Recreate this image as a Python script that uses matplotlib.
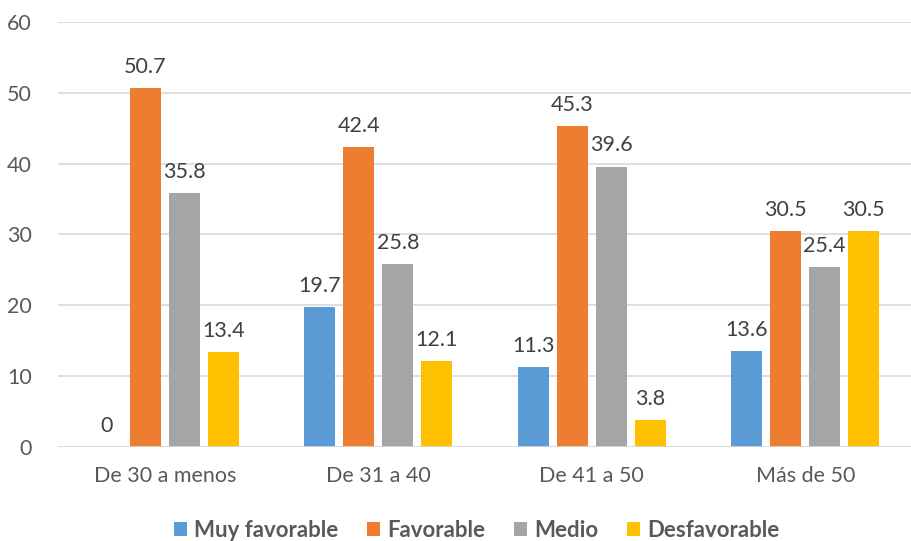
import matplotlib.pyplot as plt
import numpy as np

plt.rcParams['font.family'] = ['Lato', 'DejaVu Sans']

categories = ['De 30 a menos', 'De 31 a 40', 'De 41 a 50', 'Más de 50']
series = ['Muy favorable', 'Favorable', 'Medio', 'Desfavorable']
muy_favorable = [0, 19.7, 11.3, 13.6]
favorable = [50.7, 42.4, 45.3, 30.5]
medio = [35.8, 25.8, 39.6, 25.4]
desfavorable = [13.4, 12.1, 3.8, 30.5]
colors = ['#5B9BD5', '#ED7D31', '#A5A5A5', '#FFC000']

text_color = '#595959'
fig = plt.figure(figsize=(9.12, 5.41), dpi=100)
ax = fig.add_axes([0.0636, 0.1738, 0.9364, 0.7855])

x = np.arange(len(categories))
step = 0.183
width = 0.145
for i, (name, vals, c) in enumerate(zip(series, [muy_favorable, favorable, medio, desfavorable], colors)):
    pos = x + (i - 1.5) * step
    ax.bar(pos, vals, width, color=c, label=name, zorder=3)
    for p, v in zip(pos, vals):
        ax.annotate(f'{v:g}', (p, v), xytext=(0, 8), textcoords='offset points',
                    ha='center', va='bottom', fontsize=15.5, color='#404040')

ax.set_xlim(-0.5, 3.5)
ax.set_ylim(0, 60)
ax.set_yticks(range(0, 61, 10))
ax.set_xticks(x)
ax.set_xticklabels(categories)
ax.grid(axis='y', color='#D9D9D9', linewidth=1.2, zorder=0)
for s in ax.spines.values():
    s.set_visible(False)
ax.axhline(0, color='#D9D9D9', linewidth=1.2, zorder=4)
ax.tick_params(length=0, labelsize=15.5, colors=text_color, pad=14)
ax.tick_params(axis='y', pad=19)

leg = ax.legend(loc='center', bbox_to_anchor=(0.49, -0.197), ncol=4, frameon=False,
                prop={'weight': 'bold', 'size': 16}, handlelength=0.6, handleheight=0.6,
                handletextpad=0.3, columnspacing=1.3, borderpad=0)
for t in leg.get_texts():
    t.set_color(text_color)

fig.savefig('out.png', dpi=100)
